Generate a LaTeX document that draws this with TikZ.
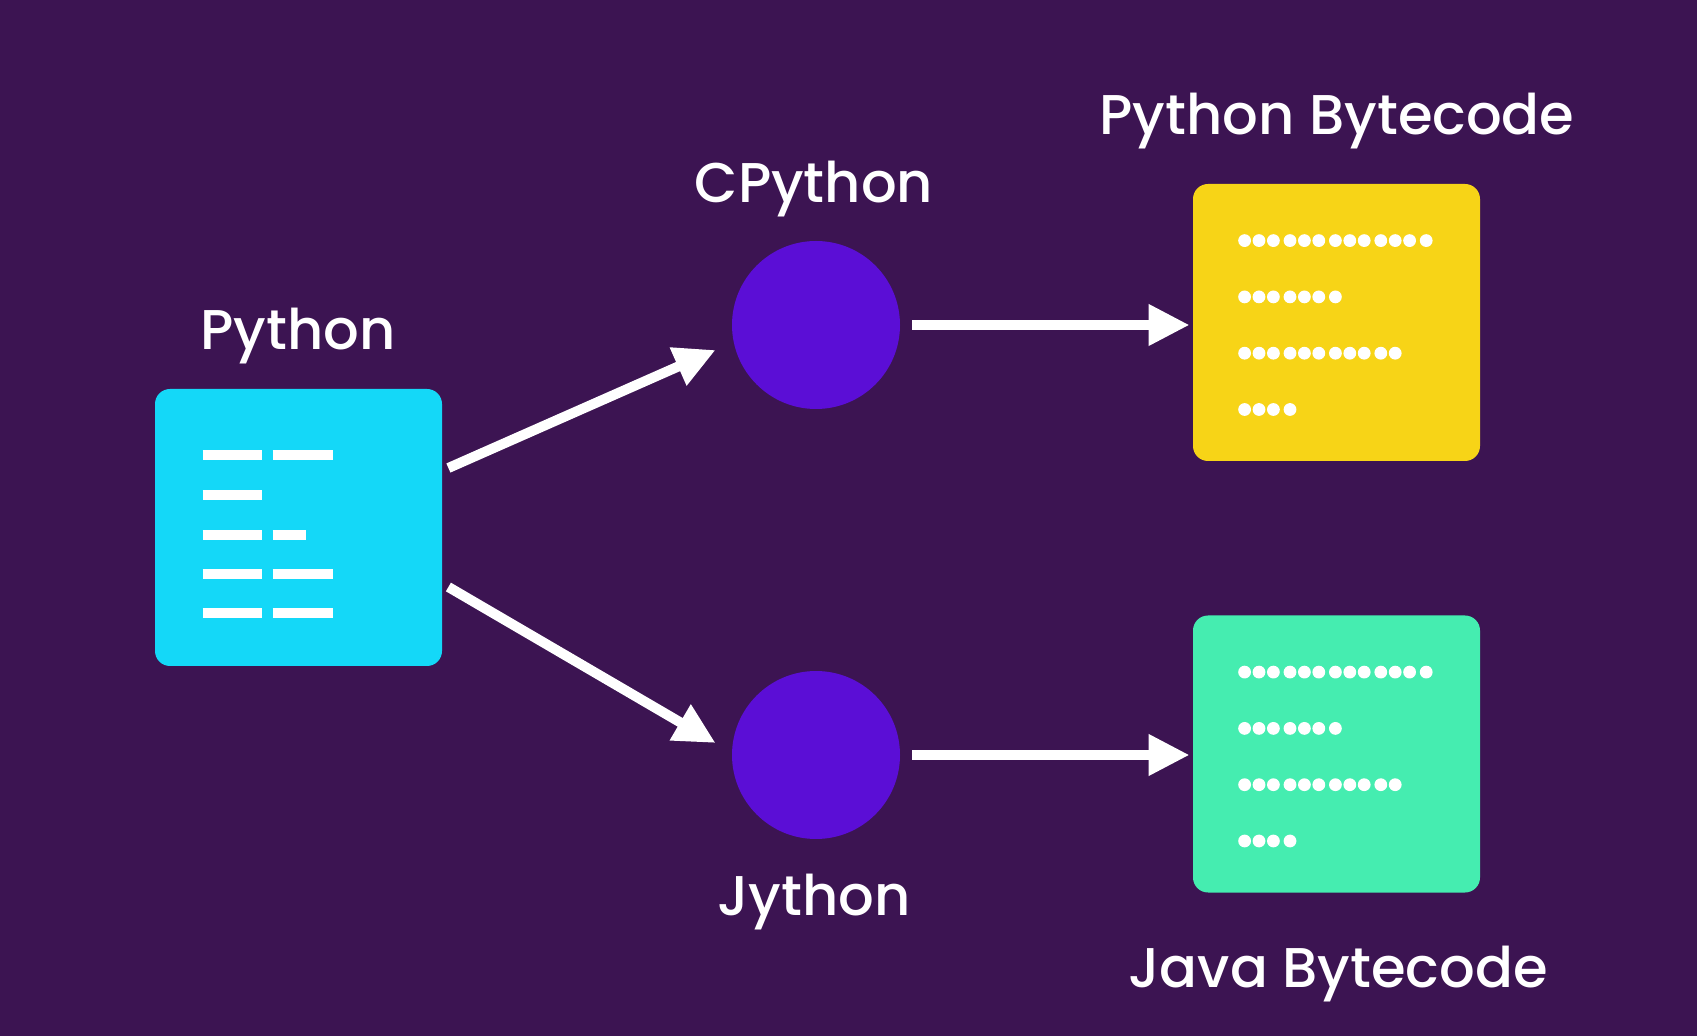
\documentclass[tikz,border=0pt]{standalone}
\usepackage{fontspec}
\setmainfont{Poppins}[UprightFont={* Medium}]
\usepackage{tikz}
\usetikzlibrary{arrows.meta, positioning, calc}
\definecolor{bgpurple}{HTML}{3C1452}
\definecolor{srccyan}{HTML}{14D8F8}
\definecolor{pybcyellow}{HTML}{F7D417}
\definecolor{javabcgreen}{HTML}{45EDB0}
\definecolor{vmviolet}{HTML}{5B0ED6}

\begin{document}
\begin{tikzpicture}[x=0.5pt, y=-0.5pt, line join=round,
        codebox/.style={rectangle, rounded corners=7.5pt, inner sep=0pt,
                        minimum width=143.5pt, minimum height=138.5pt},
        vm/.style={circle, fill=vmviolet, minimum size=84pt, inner sep=0pt},
        lbl/.style={text=white, anchor=base, font=\fontsize{28}{33}\selectfont},
        flow/.style={white, line width=5pt, -{Triangle[length=20.5pt, width=19.5pt]}},
        bar/.style={white, line width=5pt}]
    \fill[bgpurple] (0,0) rectangle (1697,1036);

    % source, interpreters, bytecode
    \node[codebox, fill=srccyan]     (src)  at (298.5, 527.5) {};
    \node[vm]                        (cpy)  at (816, 325) {};
    \node[vm]                        (jy)   at (816, 755) {};
    \node[codebox, fill=pybcyellow]  (pybc) at (1336.5, 322.5) {};
    \node[codebox, fill=javabcgreen] (jvbc) at (1336.5, 754) {};

    \node[lbl] (srclbl)  at (298, 350)  {Python};
    \node[lbl] (cpylbl)  at (814, 203)  {CPython};
    \node[lbl] (jylbl)   at (814, 915)  {Jython};
    \node[lbl] (pybclbl) at (1337, 135) {Python Bytecode};
    \node[lbl] (jvbclbl) at (1338, 987) {Java Bytecode};

    % code lines
    \foreach \y in {66,106,146,185,224} {
        \draw[bar] ([shift={(48,\y)}]src.north west) -- ++(59,0);
    }
    \foreach \y/\len in {66/60, 146/33, 185/60, 224/60} {
        \draw[bar] ([shift={(118,\y)}]src.north west) -- ++(\len,0);
    }

    % bytecode dots, in groups of three
    \foreach \bc in {pybc, jvbc} {
        \foreach \row/\n in {0/13, 1/7, 2/11, 3/4} {
            \foreach \k in {1,...,\n} {
                \fill[white] ([shift={({52+14.4*(\k-1)+2.2*floor((\k-1)/3)},{57+56.3*\row})}]\bc.north west)
                    circle[radius=3.2pt];
            }
        }
    }

    \draw[flow] ([shift={(6,-59.5)}]src.east) -- ([shift={(-16,25)}]cpy.west);
    \draw[flow] ([shift={(6,59.5)}]src.east) -- ([shift={(-16,-12)}]jy.west);
    \draw[flow] ([xshift=6pt]cpy.east) -- ([xshift=-1.5pt]cpy.east -| pybc.west);
    \draw[flow] ([xshift=6pt]jy.east) -- ([xshift=-1.5pt]jy.east -| jvbc.west);
\end{tikzpicture}
\end{document}
